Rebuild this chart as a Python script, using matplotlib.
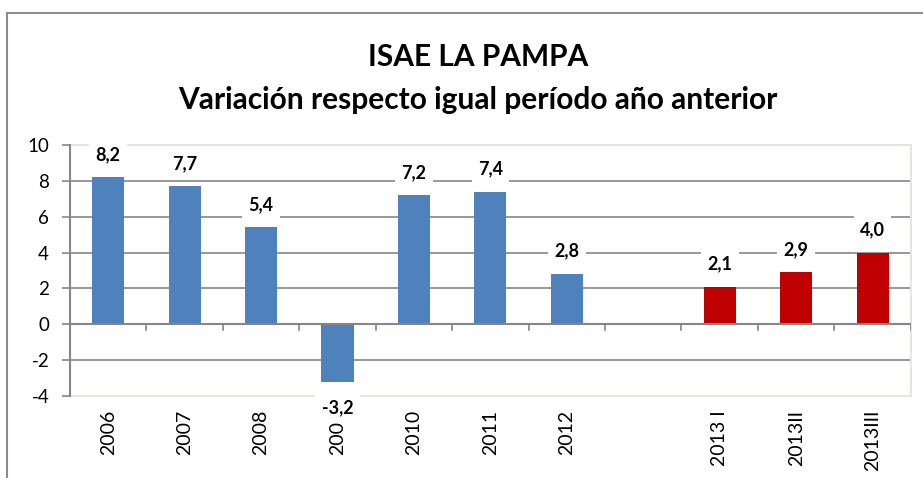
import matplotlib

matplotlib.use("Agg")
import matplotlib.pyplot as plt
from matplotlib.patches import Rectangle
import numpy as np

plt.rcParams["font.family"] = ["Lato", "DejaVu Sans"]
plt.rcParams["axes.unicode_minus"] = False

CATEGORIES = ["2006", "2007", "2008", "2009", "2010", "2011", "2012", "", "2013 I", "2013II", "2013III"]
VALUES = [8.2, 7.7, 5.4, -3.2, 7.2, 7.4, 2.8, None, 2.1, 2.9, 4.0]
ANNUAL_COLOR = "#4F81BD"
QUARTER_COLOR = "#C00000"
QUARTERS = {"2013 I", "2013II", "2013III"}
TITLE_1 = "ISAE LA PAMPA"
TITLE_2 = "Variación respecto igual período año anterior"


def main() -> None:
    fig = plt.figure(figsize=(9.23, 4.78), dpi=100)
    ax = fig.add_axes([0.0758, 0.1715, 0.911, 0.5252])

    # outer chart frame (gray, only top/left visible in the crop)
    fig.patches.append(Rectangle((7 / 923, -0.1), 1.2, 1 - 13 / 478 + 0.1, transform=fig.transFigure,
                                 fill=False, edgecolor="#8c8c8c", linewidth=1.5))

    x = np.arange(len(CATEGORIES))
    for xi, cat, val in zip(x, CATEGORIES, VALUES):
        if val is None:
            continue
        color = QUARTER_COLOR if cat in QUARTERS else ANNUAL_COLOR
        ax.bar(xi, val, width=0.42, color=color, zorder=3)
        offset = 16.5 if val >= 0 else -19
        ax.annotate(f"{val:.1f}".replace(".", ","), (xi, val), xytext=(0, offset),
                    textcoords="offset points", ha="center", va="center",
                    fontsize=13, fontweight="bold", zorder=6, annotation_clip=False,
                    bbox=dict(boxstyle="square,pad=0.35", facecolor="white", edgecolor="none"))

    ax.set_xlim(-0.5, len(CATEGORIES) - 0.5)
    ax.set_ylim(-4, 10)
    ax.set_yticks(np.arange(-4, 11, 2))
    for y in [-2, 2, 4, 6, 8]:
        ax.axhline(y, color="#868686", linewidth=1.2, zorder=1)

    # category axis at zero with ticks between categories
    ax.axhline(0, color="#868686", linewidth=1.5, zorder=4)
    for b in np.arange(0.5, len(CATEGORIES) - 0.5, 1.0):
        ax.plot([b, b], [0, -0.3], color="#868686", linewidth=1.2, zorder=4, clip_on=False)
    ax.plot([len(CATEGORIES) - 0.5] * 2, [0, -0.3], color="#868686", linewidth=1.2, zorder=4)

    ax.set_xticks(x)
    ax.set_xticklabels(CATEGORIES, rotation=90, fontsize=14)
    ax.tick_params(axis="x", length=0, pad=10)
    ax.tick_params(axis="y", length=6, width=1.2, color="#868686", labelsize=13.5, pad=9)

    for side in ["top", "bottom", "right"]:
        ax.spines[side].set_color("#e8e5da")
        ax.spines[side].set_linewidth(1.5)
    ax.spines["left"].set_color("#868686")
    ax.spines["left"].set_linewidth(1.5)
    ax.spines["left"].set_zorder(4)

    fig.text(0.518, 1 - 57 / 478, TITLE_1, ha="center", va="center", fontsize=21.5, fontweight="bold")
    fig.text(0.518, 1 - 100 / 478, TITLE_2, ha="center", va="center", fontsize=21.5, fontweight="bold")

    fig.savefig("out.png", dpi=100)
    plt.close(fig)


if __name__ == "__main__":
    main()
